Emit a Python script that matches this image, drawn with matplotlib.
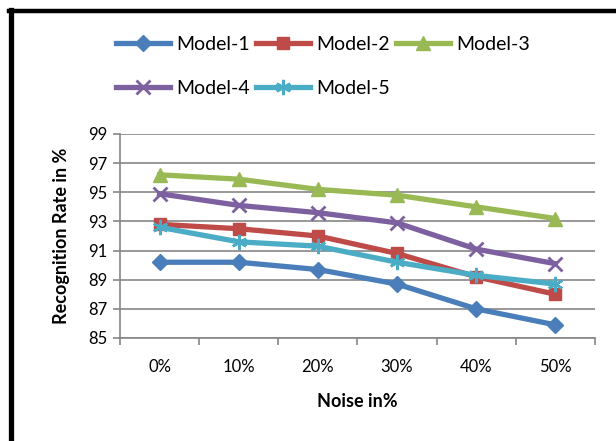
import numpy as np
import matplotlib.pyplot as plt
from matplotlib.lines import Line2D

# recognition rate (%) for each noise level
noise_levels = ["0%", "10%", "20%", "30%", "40%", "50%"]
model_1 = [90.2, 90.2, 89.7, 88.7, 87.0, 85.9]
model_2 = [92.8, 92.5, 92.0, 90.8, 89.2, 88.0]
model_3 = [96.2, 95.9, 95.2, 94.8, 94.0, 93.2]
model_4 = [94.9, 94.1, 93.6, 92.9, 91.1, 90.1]
model_5 = [92.6, 91.6, 91.3, 90.2, 89.3, 88.7]

plt.rcParams['font.family'] = ['Lato', 'DejaVu Sans']

fig = plt.figure(figsize=(6.16, 4.41), dpi=100)
ax = fig.add_axes([120/616, 1 - 338/441, 475/616, 204/441])

x = np.arange(len(noise_levels))
series = [
    ("Model-1", model_1, "#4A7EBB", dict(marker="D", markersize=8.5)),
    ("Model-2", model_2, "#BE4B48", dict(marker="s", markersize=9)),
    ("Model-3", model_3, "#98B954", dict(marker="^", markersize=10)),
    ("Model-4", model_4, "#7D60A0", dict(marker="x", markersize=10, markeredgewidth=2)),
    ("Model-5", model_5, "#4BACC6", dict(marker=(6, 2, 0), markersize=11, markeredgewidth=1.8)),
]
lines = []
for name, vals, col, mk in series:
    ln, = ax.plot(x, vals, color=col, linewidth=3.8, label=name, zorder=3,
                  markerfacecolor=col, markeredgecolor=col, **mk)
    lines.append(ln)

ax.set_xlim(-0.5, len(noise_levels) - 0.5)
ax.set_ylim(85, 99)
ax.set_yticks(np.arange(85, 100, 2))
ax.set_xticks(x)
ax.set_xticklabels(noise_levels)
ax.set_xticks(np.arange(-0.5, len(noise_levels)), minor=True)
ax.tick_params(axis="x", which="major", length=0, labelsize=12, pad=15)
ax.tick_params(axis="x", which="minor", length=5, color="#868686", width=1.2)
ax.tick_params(axis="y", length=5, color="#868686", width=1.2, labelsize=12, pad=4)
ax.grid(axis="y", color="#868686", linewidth=1.2)
for side in ["top", "right"]:
    ax.spines[side].set_visible(False)
for side in ["left", "bottom"]:
    ax.spines[side].set_color("#868686")
    ax.spines[side].set_linewidth(1.2)

ax.set_xlabel("Noise in%", fontsize=13, fontweight="bold", labelpad=13)
ax.set_ylabel("Recognition Rate in %", fontsize=13, fontweight="bold", labelpad=13)

# legend reads row by row: Model-1..3 on top, Model-4..5 below
order = [0, 3, 1, 4, 2]
fig.legend([lines[i] for i in order], [series[i][0] for i in order],
           loc="upper left", bbox_to_anchor=(116/616, 1 - 36/441), ncol=3,
           frameon=False, fontsize=14, handlelength=2.8, handletextpad=0.3,
           columnspacing=0.3, labelspacing=1.4, borderpad=0, borderaxespad=0)

# black frame on the top and left edges
fig.add_artist(Line2D([10.5/616, 10.5/616], [0, 1 - 10/441], color="black", linewidth=3.8))
fig.add_artist(Line2D([8.5/616, 1], [1 - 11/441, 1 - 11/441], color="black", linewidth=3.2))

fig.savefig("out.png", dpi=100)
